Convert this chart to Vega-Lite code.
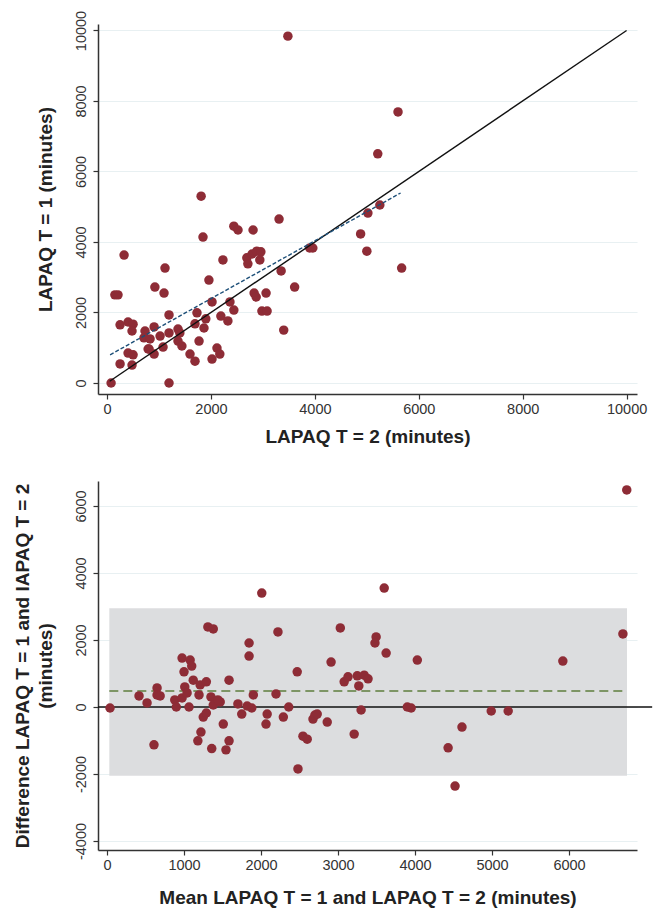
{
  "$schema": "https://vega.github.io/schema/vega-lite/v6.json",
  "padding": {"left": 13, "top": 10, "right": 5, "bottom": 5},
  "background": "white",
  "spacing": 34,
  "config": {
    "font": "Liberation Sans",
    "view": {"stroke": null},
    "axis": {
      "domainColor": "#333333", "domainWidth": 1.5,
      "tickColor": "#333333", "tickWidth": 1.2, "tickSize": 5,
      "labelColor": "#333333", "labelFontSize": 14.5, "labelFont": "Liberation Sans",
      "titleFontSize": 19, "titleFontWeight": "bold", "titleColor": "#222222", "titleFont": "Liberation Sans",
      "gridColor": "#e8f0f2", "gridWidth": 1.2
    }
  },
  "datasets": {
    "top": [
      {"x": 77, "y": 0}, {"x": 150, "y": 2500}, {"x": 210, "y": 2500}, {"x": 327, "y": 3630},
      {"x": 250, "y": 1650}, {"x": 250, "y": 540}, {"x": 404, "y": 1730}, {"x": 500, "y": 1670},
      {"x": 480, "y": 1475}, {"x": 404, "y": 850}, {"x": 500, "y": 800}, {"x": 480, "y": 510},
      {"x": 730, "y": 1475}, {"x": 710, "y": 1280}, {"x": 790, "y": 965}, {"x": 905, "y": 1590},
      {"x": 827, "y": 1250}, {"x": 808, "y": 965}, {"x": 905, "y": 820}, {"x": 920, "y": 2720},
      {"x": 1020, "y": 1330}, {"x": 1077, "y": 1020}, {"x": 1096, "y": 2550}, {"x": 1115, "y": 3260},
      {"x": 1192, "y": 1930}, {"x": 1192, "y": 1420}, {"x": 1192, "y": 0}, {"x": 1365, "y": 1530},
      {"x": 1400, "y": 1420}, {"x": 1365, "y": 1190}, {"x": 1440, "y": 1050}, {"x": 1596, "y": 820},
      {"x": 1692, "y": 620}, {"x": 1730, "y": 1990}, {"x": 1692, "y": 1680}, {"x": 1770, "y": 1190},
      {"x": 1865, "y": 1560}, {"x": 1900, "y": 1820}, {"x": 1846, "y": 4140}, {"x": 1960, "y": 2920},
      {"x": 2020, "y": 2300}, {"x": 2020, "y": 680}, {"x": 2115, "y": 990}, {"x": 2170, "y": 820},
      {"x": 2190, "y": 1900}, {"x": 2230, "y": 3490}, {"x": 2325, "y": 1760}, {"x": 2365, "y": 2300},
      {"x": 2440, "y": 2070}, {"x": 2440, "y": 4450}, {"x": 2520, "y": 4340}, {"x": 2690, "y": 3550},
      {"x": 2710, "y": 3380}, {"x": 2790, "y": 3660}, {"x": 2810, "y": 4340}, {"x": 2880, "y": 3740},
      {"x": 2960, "y": 3720}, {"x": 2940, "y": 3490}, {"x": 2830, "y": 2550}, {"x": 2870, "y": 2440},
      {"x": 2980, "y": 2040}, {"x": 3080, "y": 2040}, {"x": 3060, "y": 2550}, {"x": 3310, "y": 4650},
      {"x": 3350, "y": 3180}, {"x": 3400, "y": 1500}, {"x": 3610, "y": 2720}, {"x": 3900, "y": 3830},
      {"x": 3960, "y": 3830}, {"x": 5210, "y": 6500}, {"x": 5250, "y": 5050}, {"x": 5020, "y": 4820},
      {"x": 4880, "y": 4230}, {"x": 5000, "y": 3740}, {"x": 5670, "y": 3260}, {"x": 5600, "y": 7690},
      {"x": 3480, "y": 9840}, {"x": 1810, "y": 5300}
    ],
    "bottom": [
      {"m": 39, "d": -30}, {"m": 416, "d": 330}, {"m": 520, "d": 120}, {"m": 650, "d": 570},
      {"m": 650, "d": 360}, {"m": 690, "d": 330}, {"m": 610, "d": -1130}, {"m": 975, "d": 1460},
      {"m": 1080, "d": 1400}, {"m": 1100, "d": 1220}, {"m": 1000, "d": 1050}, {"m": 1010, "d": 600},
      {"m": 880, "d": 210}, {"m": 975, "d": 270}, {"m": 1040, "d": 420}, {"m": 900, "d": 0},
      {"m": 1065, "d": 0}, {"m": 1120, "d": 800}, {"m": 1195, "d": 360}, {"m": 1210, "d": 660},
      {"m": 1290, "d": 750}, {"m": 1250, "d": -300}, {"m": 1290, "d": -180}, {"m": 1220, "d": -750},
      {"m": 1180, "d": -1010}, {"m": 1310, "d": 2390}, {"m": 1380, "d": 2330}, {"m": 1360, "d": -1240},
      {"m": 1350, "d": 300}, {"m": 1380, "d": 60}, {"m": 1470, "d": 150},
      {"m": 2010, "d": 3400}, {"m": 2220, "d": 2240}, {"m": 1845, "d": 1910}, {"m": 1845, "d": 1520},
      {"m": 2470, "d": 1050}, {"m": 1585, "d": 800}, {"m": 1900, "d": 360}, {"m": 2195, "d": 390},
      {"m": 1440, "d": 210}, {"m": 1700, "d": 90}, {"m": 1820, "d": 30}, {"m": 1880, "d": -30},
      {"m": 1750, "d": -210}, {"m": 1510, "d": -510}, {"m": 2080, "d": -210}, {"m": 2065, "d": -510},
      {"m": 2290, "d": -300}, {"m": 2360, "d": 0}, {"m": 1585, "d": -1010}, {"m": 1545, "d": -1280},
      {"m": 2480, "d": -1850}, {"m": 2545, "d": -870}, {"m": 2600, "d": -960}, {"m": 2675, "d": -360},
      {"m": 3600, "d": 3550}, {"m": 3030, "d": 2360}, {"m": 3495, "d": 2090}, {"m": 3480, "d": 1910},
      {"m": 3625, "d": 1610}, {"m": 2910, "d": 1340}, {"m": 4030, "d": 1400}, {"m": 3080, "d": 750},
      {"m": 3130, "d": 900}, {"m": 3250, "d": 930}, {"m": 3340, "d": 950}, {"m": 3390, "d": 840},
      {"m": 3270, "d": 630}, {"m": 3300, "d": -90}, {"m": 3900, "d": 0}, {"m": 3950, "d": -30},
      {"m": 2700, "d": -240}, {"m": 2730, "d": -210}, {"m": 2860, "d": -450}, {"m": 3210, "d": -810},
      {"m": 6750, "d": 6480}, {"m": 6700, "d": 2180}, {"m": 5920, "d": 1370}, {"m": 4990, "d": -120},
      {"m": 5210, "d": -120}, {"m": 4610, "d": -600}, {"m": 4430, "d": -1220}, {"m": 4520, "d": -2360}
    ]
  },
  "vconcat": [
    {
      "width": 539,
      "height": 370,
      "layer": [
        {
          "data": {"name": "top"},
          "mark": {"type": "circle", "size": 90, "opacity": 1, "color": "#8e2c36"},
          "encoding": {
            "x": {"field": "x", "type": "quantitative",
              "scale": {"domain": [-175, 10200], "nice": false, "zero": false},
              "axis": {"values": [0, 2000, 4000, 6000, 8000, 10000], "format": "d", "grid": false,
                "title": "LAPAQ T = 2 (minutes)", "labelPadding": 3, "titlePadding": 12}},
            "y": {"field": "y", "type": "quantitative",
              "scale": {"domain": [-312, 10184], "nice": false, "zero": false},
              "axis": {"values": [0, 2000, 4000, 6000, 8000, 10000], "format": "d", "grid": true,
                "labelAngle": -90, "labelAlign": "center", "labelBaseline": "bottom", "labelPadding": 5,
                "title": "LAPAQ T = 1 (minutes)", "titlePadding": 18}}
          }
        },
        {
          "data": {"values": [{"x": 50, "y": 50}, {"x": 10000, "y": 10000}]},
          "mark": {"type": "line", "color": "#111111", "strokeWidth": 1.4},
          "encoding": {"x": {"field": "x", "type": "quantitative"}, "y": {"field": "y", "type": "quantitative"}}
        },
        {
          "data": {"values": [{"x": 58, "y": 800}, {"x": 5650, "y": 5390}]},
          "mark": {"type": "line", "color": "#1d4f78", "strokeWidth": 1.4, "strokeDash": [4, 2]},
          "encoding": {"x": {"field": "x", "type": "quantitative"}, "y": {"field": "y", "type": "quantitative"}}
        }
      ]
    },
    {
      "width": 539,
      "height": 369,
      "layer": [
        {
          "data": {"values": [{"x1": 30, "x2": 6753, "y1": -2050, "y2": 2950}]},
          "mark": {"type": "rect", "color": "#dcdddf"},
          "encoding": {
            "x": {"field": "x1", "type": "quantitative",
              "scale": {"domain": [-117, 6883], "nice": false, "zero": false},
              "axis": {"values": [0, 1000, 2000, 3000, 4000, 5000, 6000], "format": "d", "grid": false,
                "title": "Mean LAPAQ T = 1 and LAPAQ T = 2 (minutes)", "labelPadding": 3, "titlePadding": 17}},
            "x2": {"field": "x2"},
            "y": {"field": "y1", "type": "quantitative",
              "scale": {"domain": [-4269, 6746], "nice": false, "zero": false},
              "axis": {"values": [-4000, -2000, 0, 2000, 4000, 6000], "grid": true,
                "labelExpr": "datum.value < 0 ? '-' + format(-datum.value, 'd') : format(datum.value, 'd')",
                "labelAngle": -90, "labelAlign": "center", "labelBaseline": "bottom", "labelPadding": 5,
                "title": ["Difference LAPAQ T = 1 and IAPAQ T = 2", "(minutes)"], "titlePadding": 18, "titleLineHeight": 23}},
            "y2": {"field": "y2"}
          }
        },
        {
          "data": {"values": [{"x1": 30, "x2": 6753, "y": 478}]},
          "mark": {"type": "rule", "color": "#5e7d3e", "strokeWidth": 1.5, "strokeDash": [9, 5]},
          "encoding": {"x": {"field": "x1", "type": "quantitative"}, "x2": {"field": "x2"}, "y": {"field": "y", "type": "quantitative"}}
        },
        {
          "data": {"values": [{"x1": -117, "x2": 7080, "y": 0}]},
          "mark": {"type": "rule", "color": "#111111", "strokeWidth": 1.5},
          "encoding": {"x": {"field": "x1", "type": "quantitative"}, "x2": {"field": "x2"}, "y": {"field": "y", "type": "quantitative"}}
        },
        {
          "data": {"name": "bottom"},
          "mark": {"type": "circle", "size": 90, "opacity": 1, "color": "#8e2c36"},
          "encoding": {
            "x": {"field": "m", "type": "quantitative"},
            "y": {"field": "d", "type": "quantitative"}
          }
        }
      ]
    }
  ]
}
